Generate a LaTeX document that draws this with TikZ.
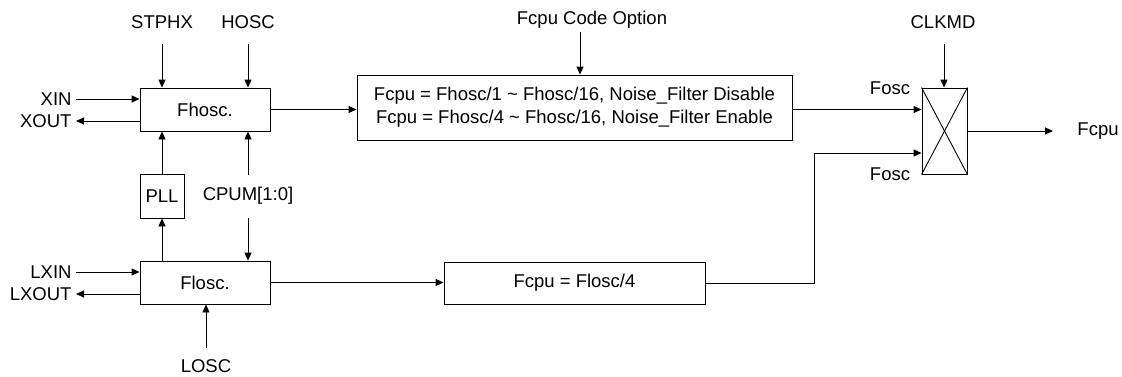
\documentclass[tikz,border=0pt]{standalone}
\usepackage{fontspec}
\setmainfont{Liberation Sans}
\usetikzlibrary{arrows.meta}
\begin{document}
\begin{tikzpicture}[x=1pt,y=-1pt, line width=0.9pt,
  box/.style={draw, inner sep=0pt, font=\fontsize{18.5}{23}\selectfont},
  lbl/.style={inner sep=0pt, font=\fontsize{18.5}{23}\selectfont},
  arr/.style={-{Triangle[length=8pt,width=7pt]}}]
\useasboundingbox (0,0) rectangle (1122,376);
% boxes
\node[box, minimum width=130pt, minimum height=43pt] (fhosc) at (205,109.5) {Fhosc.};
\node[box, minimum width=44pt, minimum height=44pt] (pll) at (162,196) {PLL};
\node[box, minimum width=130pt, minimum height=43pt] (flosc) at (205,282.5) {Flosc.};
\node[box, minimum width=435pt, minimum height=65pt, align=center] (cpu1) at (574.5,107.5)
  {Fcpu = Fhosc/1 \textasciitilde{} Fhosc/16, Noise\_Filter Disable\\Fcpu = Fhosc/4 \textasciitilde{} Fhosc/16, Noise\_Filter Enable};
\node[box, minimum width=261pt, minimum height=42pt] (cpu2) at (574.5,283) {Fcpu = Flosc/4};
\node[box, minimum width=45pt, minimum height=86pt] (mux) at (944.5,131) {};
\draw (mux.north west) -- (mux.south east);
\draw (mux.north east) -- (mux.south west);
% labels
\node[lbl] (stphx) at (162,22) {STPHX};
\node[lbl] (hosc) at (248,22) {HOSC};
\node[lbl, anchor=east] (xin) at (72,99) {XIN};
\node[lbl, anchor=east] (xout) at (72,121) {XOUT};
\node[lbl, anchor=east] (lxin) at (72,272) {LXIN};
\node[lbl, anchor=east] (lxout) at (72,294) {LXOUT};
\node[lbl] (cpum) at (248,196) {CPUM[1:0]};
\node[lbl] (losc) at (206,366) {LOSC};
\node[lbl] (fco) at (592,20) {Fcpu Code Option};
\node[lbl] (clkmd) at (943,22) {CLKMD};
\node[lbl] (fosc1) at (890,88) {Fosc};
\node[lbl] (fosc2) at (890,174) {Fosc};
\node[lbl, anchor=west] (fcpu) at (1077,131) {Fcpu};
% free ends
\coordinate (stphxA) at (162,44);
\coordinate (hoscA) at (248,44);
\coordinate (cpumT) at (248,175);
\coordinate (cpumB) at (248,218);
\coordinate (loscA) at (206,348);
\coordinate (fcoA) at (580,32);
\coordinate (clkA) at (944,44);
\coordinate (bend) at (814,153);
\coordinate (outE) at (1053,131);
% connectors
\draw[arr] (stphxA) -- (stphxA |- fhosc.north);
\draw[arr] (hoscA) -- (hoscA |- fhosc.north);
\draw[arr] ([xshift=4pt]xin.east) -- (xin -| fhosc.west);
\draw[arr] (xout -| fhosc.west) -- ([xshift=4pt]xout.east);
\draw[arr] (pll.north) -- (pll.north |- fhosc.south);
\draw[arr] (cpumT) -- (cpumT |- fhosc.south);
\draw[arr] (pll.south |- flosc.north) -- (pll.south);
\draw[arr] (cpumB) -- (cpumB |- flosc.north);
\draw[arr] ([xshift=4pt]lxin.east) -- (lxin -| flosc.west);
\draw[arr] (lxout -| flosc.west) -- ([xshift=4pt]lxout.east);
\draw[arr] (loscA) -- (loscA |- flosc.south);
\draw[arr] (fhosc.east) -- (fhosc.east -| cpu1.west);
\draw[arr] (fcoA) -- (fcoA |- cpu1.north);
\draw[arr] (cpu1.east |- fhosc.east) -- (fhosc.east -| mux.west);
\draw[arr] (flosc.east) -- (flosc.east -| cpu2.west);
\draw[arr] (cpu2.east) -| (bend) -- (bend -| mux.west);
\draw[arr] (clkA) -- (clkA |- mux.north);
\draw[arr] (mux.east) -- (outE);
\end{tikzpicture}
\end{document}
